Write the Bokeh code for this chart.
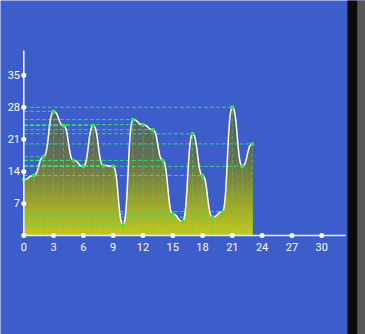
import numpy as np
from bokeh.plotting import figure
from bokeh.models import Range1d
from bokeh.core.properties import value
from bokeh.embed import file_html
from bokeh.resources import INLINE

# ---- data ----
hours = list(range(24))
values = [12.2, 13.1, 17.2, 27.1, 24.0, 16.4, 15.1, 24.0, 15.3, 15.1, 2.3, 25.3,
          24.2, 23.1, 16.4, 4.7, 3.1, 22.2, 13.1, 4.0, 5.2, 28.0, 15.1, 20.0]
x_ticks = [0, 3, 6, 9, 12, 15, 18, 21, 24, 27, 30]
y_ticks = [7, 14, 21, 28, 35]
x_labels = [str(t) for t in x_ticks]
y_labels = [str(t) for t in y_ticks]

BG = "#3c5dca"
GREEN = "#3ee05a"

# gradient colour stops (value level -> colour)
grad_levels = [0, 6, 12, 17, 24, 30]
grad_colors = ["#c6c81c", "#a4aa2a", "#7e883e", "#636f56", "#566568", "#4e5e6a"]

# ---- pixel geometry of the canvas ----
W, H = 365, 334
X0_PX, XS = 23.3, 9.93      # x=0 position and px per unit
Y0_PX, YS = 235.0, 4.58     # y=0 position (from top) and px per unit


def px_x(px):
    return (px - X0_PX) / XS


def px_y(py):
    return (Y0_PX - py) / YS


def hbezier_path(xs, ys, n=24):
    """Horizontal cubic bezier through the points (flat tangents)."""
    xs = np.asarray(xs, float)
    ys = np.asarray(ys, float)
    outx, outy = [xs[0]], [ys[0]]
    t = np.linspace(0, 1, n)[1:]
    for j in range(1, len(xs)):
        p0 = np.array([xs[j - 1], ys[j - 1]])
        p3 = np.array([xs[j], ys[j]])
        mx = (xs[j - 1] + xs[j]) / 2
        p1 = np.array([mx, ys[j - 1]])
        p2 = np.array([mx, ys[j]])
        b = ((1 - t) ** 3)[:, None] * p0 + (3 * (1 - t) ** 2 * t)[:, None] * p1 \
            + (3 * (1 - t) * t ** 2)[:, None] * p2 + (t ** 3)[:, None] * p3
        outx.extend(b[:, 0])
        outy.extend(b[:, 1])
    return np.array(outx), np.array(outy)


def hex2rgb(h):
    return np.array([int(h[i:i + 2], 16) for i in (1, 3, 5)], float)


def grad_at(v):
    cols = np.array([hex2rgb(c) for c in grad_colors])
    rgb = [np.interp(v, grad_levels, cols[:, i]) for i in range(3)]
    return "#%02x%02x%02x" % tuple(int(round(c)) for c in rgb)


cx, cy = hbezier_path(hours, values)

p = figure(width=W, height=H, output_backend="svg", toolbar_location=None,
           x_range=Range1d(px_x(0), px_x(W)), y_range=Range1d(px_y(H), px_y(0)),
           min_border=0, x_axis_location=None, y_axis_location=None)
p.background_fill_color = BG
p.border_fill_color = BG
p.outline_line_color = None
p.grid.visible = False

# gradient fill: nested areas drawn from the top band down (no seams)
nb = 60
edges = np.linspace(0, 30, nb + 1)
for k in range(nb - 1, -1, -1):
    lo, hi = edges[k], edges[k + 1]
    p.varea(x=cx, y1=np.zeros_like(cy), y2=np.minimum(cy, hi),
            fill_color=grad_at((lo + hi) / 2), fill_alpha=1.0)

zeros = [0] * len(hours)
p.segment(x0=zeros, y0=values, x1=hours, y1=values, line_color="#34e070",
          line_alpha=0.9, line_width=1, line_dash="4 2")
p.segment(x0=hours, y0=zeros, x1=hours, y1=values, line_color=GREEN,
          line_alpha=0.55, line_width=1, line_dash="4 2")

p.line(cx, cy, line_color="white", line_width=1.5)
p.scatter(hours, values, size=4, fill_color=GREEN, line_color=None)

# axes
x_end, y_end = px_x(345), px_y(50)
p.segment(x0=[0], y0=[0], x1=[x_end], y1=[0], line_color="#e6eaf8", line_width=1.5)
p.segment(x0=[0], y0=[0], x1=[0], y1=[y_end], line_color="white", line_width=1.5)
p.scatter(x_ticks, [0] * len(x_ticks), size=5, fill_color="white", line_color=None)
p.scatter([0] * len(y_ticks), y_ticks, size=5, fill_color="white", line_color=None)

p.text(x=x_ticks, y=[px_y(246.5)] * len(x_ticks), text=x_labels,
       text_color="white", text_font=value("Roboto"), text_font_size="11px",
       text_align="center", text_baseline="middle")
p.text(x=[px_x(19.5)] * len(y_ticks), y=y_ticks, text=y_labels,
       text_color="white", text_font=value("Roboto"), text_font_size="11px",
       text_align="right", text_baseline="middle")

# dark device edge on the right
p.quad(left=[px_x(347)], right=[px_x(357)], bottom=[px_y(H + 5)], top=[px_y(-5)],
       fill_color="#0b0b0b", line_color=None)
p.quad(left=[px_x(357)], right=[px_x(W + 5)], bottom=[px_y(H + 5)], top=[px_y(-5)],
       fill_color="#565656", line_color=None)

open("out.html", "w").write(file_html(p, INLINE))
